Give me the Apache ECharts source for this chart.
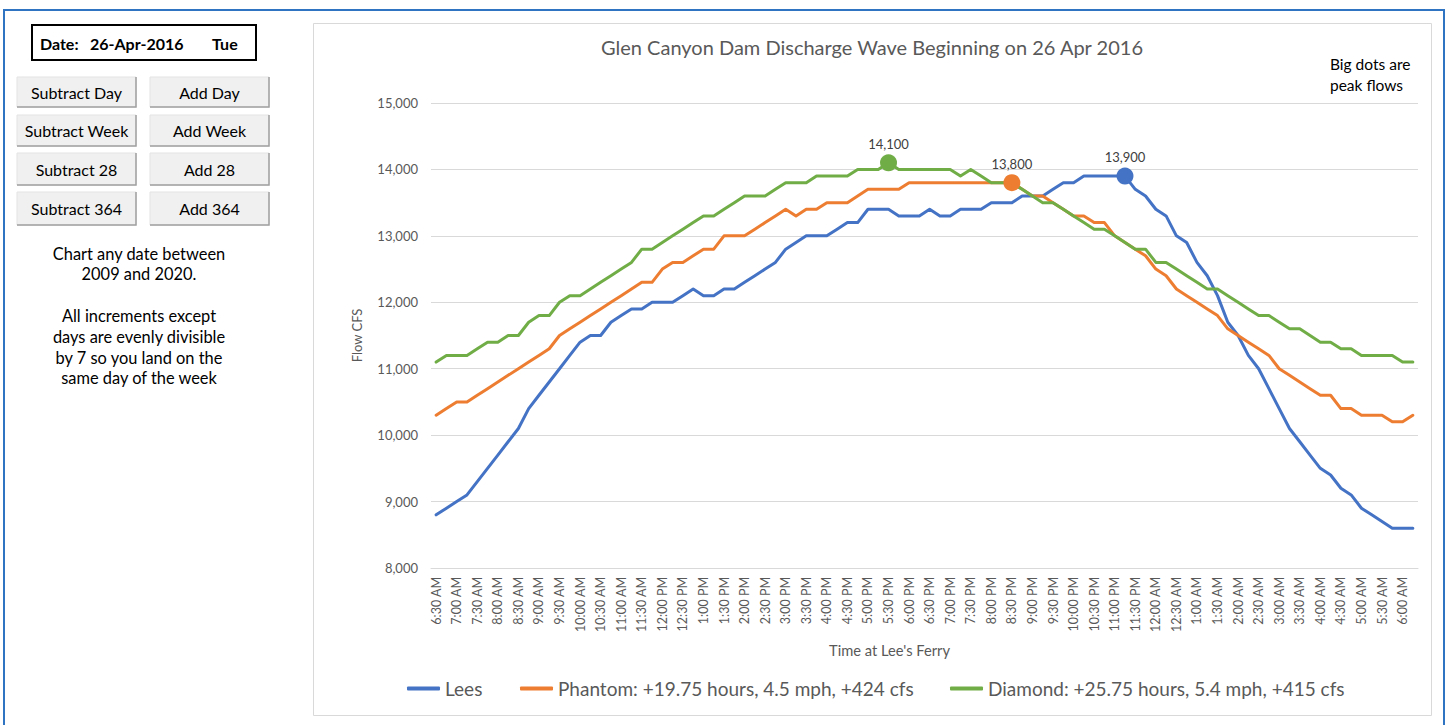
<!DOCTYPE html>
<html>
<head>
<meta charset="utf-8">
<script src="https://cdn.jsdelivr.net/npm/echarts@6/dist/echarts.min.js"></script>
<style>
html,body{margin:0;padding:0;background:#fff;}
#chart{width:1448px;height:725px;}
</style>
</head>
<body>
<div id="chart"></div>
<script>
// ---- categories (15-minute steps, Lee's Ferry time) ----
const times = ['6:30 AM','6:45 AM','7:00 AM','7:15 AM','7:30 AM','7:45 AM','8:00 AM','8:15 AM','8:30 AM','8:45 AM',
'9:00 AM','9:15 AM','9:30 AM','9:45 AM','10:00 AM','10:15 AM','10:30 AM','10:45 AM','11:00 AM','11:15 AM',
'11:30 AM','11:45 AM','12:00 PM','12:15 PM','12:30 PM','12:45 PM','1:00 PM','1:15 PM','1:30 PM','1:45 PM',
'2:00 PM','2:15 PM','2:30 PM','2:45 PM','3:00 PM','3:15 PM','3:30 PM','3:45 PM','4:00 PM','4:15 PM',
'4:30 PM','4:45 PM','5:00 PM','5:15 PM','5:30 PM','5:45 PM','6:00 PM','6:15 PM','6:30 PM','6:45 PM',
'7:00 PM','7:15 PM','7:30 PM','7:45 PM','8:00 PM','8:15 PM','8:30 PM','8:45 PM','9:00 PM','9:15 PM',
'9:30 PM','9:45 PM','10:00 PM','10:15 PM','10:30 PM','10:45 PM','11:00 PM','11:15 PM','11:30 PM','11:45 PM',
'12:00 AM','12:15 AM','12:30 AM','12:45 AM','1:00 AM','1:15 AM','1:30 AM','1:45 AM','2:00 AM','2:15 AM',
'2:30 AM','2:45 AM','3:00 AM','3:15 AM','3:30 AM','3:45 AM','4:00 AM','4:15 AM','4:30 AM','4:45 AM',
'5:00 AM','5:15 AM','5:30 AM','5:45 AM','6:00 AM','6:15 AM'];

// ---- series values (cfs) ----
const lees = [8800,8900,9000,9100,9300,9500,9700,9900,10100,10400,
10600,10800,11000,11200,11400,11500,11500,11700,11800,11900,
11900,12000,12000,12000,12100,12200,12100,12100,12200,12200,
12300,12400,12500,12600,12800,12900,13000,13000,13000,13100,
13200,13200,13400,13400,13400,13300,13300,13300,13400,13300,
13300,13400,13400,13400,13500,13500,13500,13600,13600,13600,
13700,13800,13800,13900,13900,13900,13900,13900,13700,13600,
13400,13300,13000,12900,12600,12400,12100,11700,11500,11200,
11000,10700,10400,10100,9900,9700,9500,9400,9200,9100,
8900,8800,8700,8600,8600,8600];

const phantom = [10300,10400,10500,10500,10600,10700,10800,10900,11000,11100,
11200,11300,11500,11600,11700,11800,11900,12000,12100,12200,
12300,12300,12500,12600,12600,12700,12800,12800,13000,13000,
13000,13100,13200,13300,13400,13300,13400,13400,13500,13500,
13500,13600,13700,13700,13700,13700,13800,13800,13800,13800,
13800,13800,13800,13800,13800,13800,13800,13700,13600,13600,
13500,13400,13300,13300,13200,13200,13000,12900,12800,12700,
12500,12400,12200,12100,12000,11900,11800,11600,11500,11400,
11300,11200,11000,10900,10800,10700,10600,10600,10400,10400,
10300,10300,10300,10200,10200,10300];

const diamond = [11100,11200,11200,11200,11300,11400,11400,11500,11500,11700,
11800,11800,12000,12100,12100,12200,12300,12400,12500,12600,
12800,12800,12900,13000,13100,13200,13300,13300,13400,13500,
13600,13600,13600,13700,13800,13800,13800,13900,13900,13900,
13900,14000,14000,14000,14100,14000,14000,14000,14000,14000,
14000,13900,14000,13900,13800,13800,13800,13700,13600,13500,
13500,13400,13300,13200,13100,13100,13000,12900,12800,12800,
12600,12600,12500,12400,12300,12200,12200,12100,12000,11900,
11800,11800,11700,11600,11600,11500,11400,11400,11300,11300,
11200,11200,11200,11200,11100,11100];

// ---- peak flows (big dots) ----
const peakTimes  = ['11:15 PM', '8:30 PM', '5:30 PM'];   // Lees, Phantom, Diamond
const peakValues = [13900, 13800, 14100];

// ---- text ----
const seriesNames = ['Lees', 'Phantom: +19.75 hours, 4.5 mph, +424 cfs', 'Diamond: +25.75 hours, 5.4 mph, +415 cfs'];
const colors = ['#4472C4', '#ED7D31', '#70AD47'];
const yTicks = [8000, 9000, 10000, 11000, 12000, 13000, 14000, 15000];
const titleText = 'Glen Canyon Dam Discharge Wave Beginning on 26 Apr 2016';
const noteLines = ['Big dots are', 'peak flows'];
const dateParts = ['Date:', '26-Apr-2016', 'Tue'];
const buttonLabels = [['Subtract Day','Add Day'],['Subtract Week','Add Week'],['Subtract 28','Add 28'],['Subtract 364','Add 364']];
const infoLines = ['Chart any date between', '2009 and 2020.', '', 'All increments except', 'days are evenly divisible', 'by 7 so you land on the', 'same day of the week'];

const FONT = 'Lato, "Open Sans", sans-serif';
const fmt = v => Number(v).toLocaleString('en-US');

// ---- page graphics (frame, control panel, chart box) ----
const graphics = [];
// chart area box
graphics.push({type:'rect', shape:{x:313.5,y:23.5,width:1118,height:692}, style:{fill:'#fff', stroke:'#d9d9d9', lineWidth:1}, z:-10});
// blue selection frame
graphics.push({type:'polyline', shape:{points:[[4,725],[4,10],[1444,10],[1444,725]]}, style:{stroke:'#2e74c3', lineWidth:2, fill:null}, z:-5});
// date box
graphics.push({type:'rect', shape:{x:32,y:25,width:224,height:35}, style:{fill:'#fff', stroke:'#000', lineWidth:2}});
const dateX = [40, 90, 212];
dateParts.forEach((t,i)=>graphics.push({type:'text', x:dateX[i], y:43, style:{text:t, font:'bold 16px '+FONT, fill:'#000', textVerticalAlign:'middle'}}));
// buttons
const rowsY = [77, 115, 153, 192];
const rowsH = [30, 31, 32, 33];
const colsX = [17, 150];
buttonLabels.forEach((row,r)=>row.forEach((lab,c)=>{
  const x = colsX[c], y = rowsY[r], w = 119, h = rowsH[r];
  graphics.push({type:'rect', shape:{x:x,y:y,width:w,height:h}, style:{fill:'#f0f0f0', stroke:'#e3e3e3', lineWidth:1}});
  graphics.push({type:'polyline', shape:{points:[[x,y+h],[x+w,y+h],[x+w,y]]}, style:{stroke:'#a0a0a0', lineWidth:1.5, fill:null}});
  graphics.push({type:'text', x:x+w/2, y:y+h/2, style:{text:lab, font:'16px '+FONT, fill:'#000', textAlign:'center', textVerticalAlign:'middle'}});
}));
// info text
infoLines.forEach((t,i)=>{ if(t) graphics.push({type:'text', x:139, y:253+i*20.8, style:{text:t, font:'16.4px '+FONT, fill:'#000', textAlign:'center', textVerticalAlign:'middle'}}); });
// note
noteLines.forEach((t,i)=>graphics.push({type:'text', x:1330, y:64+i*21, style:{text:t, font:'15.5px '+FONT, fill:'#000', textVerticalAlign:'middle'}}));

const chart = echarts.init(document.getElementById('chart'), null, {renderer:'svg'});

const lineSeries = [lees, phantom, diamond].map((d,i)=>({
  name: seriesNames[i], type:'line', data:d, showSymbol:false, symbol:'none',
  lineStyle:{width:3, color:colors[i], cap:'round', join:'round'}, itemStyle:{color:colors[i]},
  z: 2+i
}));
const dotSeries = peakTimes.map((t,i)=>({
  name:'peak'+i, type:'scatter', data:[[t, peakValues[i]]], symbolSize:17,
  itemStyle:{color:colors[i], opacity:1},
  label:{show:true, position:'top', distance:4, formatter:p=>fmt(p.value[1]), color:'#404040', fontSize:13, fontFamily:FONT},
  z: 10
}));

const legendLeft = [407, 520, 950];
const legends = seriesNames.map((n,i)=>({
  data:[n], left:legendLeft[i], top:679, padding:0, icon:'roundRect', itemWidth:33, itemHeight:4, itemGap:0,
  textStyle:{fontSize:19, color:'#595959', fontFamily:FONT}, selectedMode:false
}));

chart.setOption({
  animation:false,
  backgroundColor:'#fff',
  textStyle:{fontFamily:FONT},
  title:{text:titleText, left:872, top:37, textAlign:'center', padding:0,
    textStyle:{fontSize:20, fontWeight:'normal', color:'#595959', fontFamily:FONT}},
  legend:legends,
  grid:{left:431, right:30, top:103, bottom:157, containLabel:false},
  xAxis:{type:'category', data:times, boundaryGap:true,
    name:"Time at Lee's Ferry", nameLocation:'middle', nameGap:74,
    nameTextStyle:{fontSize:14.7, color:'#595959', fontFamily:FONT, padding:[0,70,0,0]},
    axisLine:{lineStyle:{color:'#d9d9d9', width:1}}, axisTick:{show:false},
    axisLabel:{interval:1, rotate:90, margin:9, fontSize:12.5, color:'#595959', fontFamily:FONT}},
  yAxis:{type:'value', min:yTicks[0], max:yTicks[yTicks.length-1], interval:1000,
    name:'Flow CFS', nameLocation:'middle', nameGap:68, nameRotate:90,
    nameTextStyle:{fontSize:13, color:'#595959', fontFamily:FONT},
    axisLine:{show:false}, axisTick:{show:false},
    axisLabel:{margin:13, fontSize:13, color:'#595959', fontFamily:FONT, formatter:v=>fmt(v)},
    splitLine:{lineStyle:{color:'#d9d9d9', width:1}}},
  graphic:graphics,
  series: lineSeries.concat(dotSeries)
});
</script>
</body>
</html>
